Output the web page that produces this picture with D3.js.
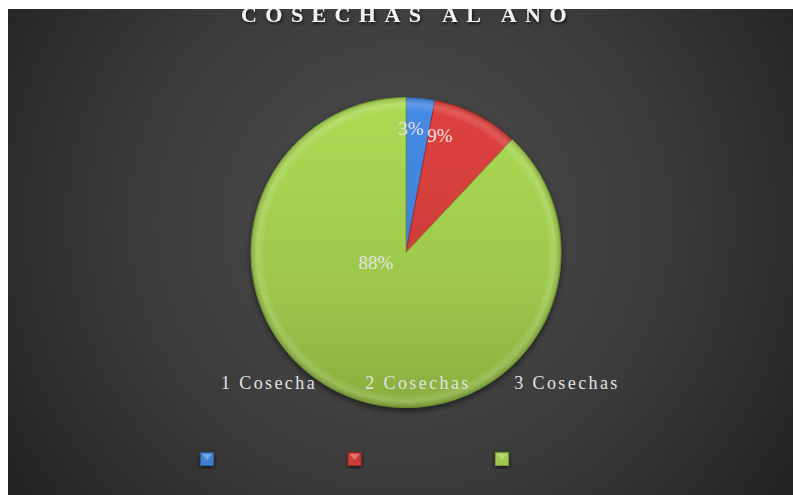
<!DOCTYPE html>
<html lang="es">
<head>
<meta charset="UTF-8">
<title>Cosechas al año</title>
<script src="https://d3js.org/d3.v7.min.js"></script>
<style>
body { margin: 0; background: #fff; }
svg { display: block; }
</style>
</head>
<body>
<div id="container"></div>
<script>
// data
const categories = ["1 Cosecha", "2 Cosechas", "3 Cosechas"];
const values = [3, 9, 88];
const colors = ["#3f7fd2", "#cc3c39", "#9dc84c"];
const darkColors = ["#2a5e9e", "#9a2826", "#7a9c34"];

const serif = "'Liberation Serif', 'Times New Roman', serif";
const width = 793, height = 495;
const cx = 406, cy = 252.5, r = 155;

const svg = d3.select("#container").append("svg")
    .attr("width", width)
    .attr("height", height);

const defs = svg.append("defs");

// background gradient
const bg = defs.append("radialGradient").attr("id", "bg")
    .attr("gradientUnits", "userSpaceOnUse")
    .attr("cx", 400).attr("cy", 220).attr("r", 480);
bg.append("stop").attr("offset", 0).attr("stop-color", "#4e4e4e");
bg.append("stop").attr("offset", 0.55).attr("stop-color", "#3b3b3b");
bg.append("stop").attr("offset", 1).attr("stop-color", "#222");

// slice gradients (pie group is centred, so y runs from -r to r)
colors.forEach((c, i) => {
    const g = defs.append("linearGradient").attr("id", "sg" + i)
        .attr("gradientUnits", "userSpaceOnUse")
        .attr("x1", 0).attr("y1", -r).attr("x2", 0).attr("y2", r);
    g.append("stop").attr("offset", 0).attr("stop-color", d3.color(c).brighter(0.25));
    g.append("stop").attr("offset", 0.6).attr("stop-color", c);
    g.append("stop").attr("offset", 1).attr("stop-color", d3.interpolateRgb(c, darkColors[i])(0.6));
});

// rim bevel
const rim = defs.append("radialGradient").attr("id", "rim")
    .attr("gradientUnits", "userSpaceOnUse")
    .attr("cx", 0).attr("cy", 0).attr("r", r);
rim.append("stop").attr("offset", 0.9).attr("stop-color", "#fff").attr("stop-opacity", 0);
rim.append("stop").attr("offset", 0.96).attr("stop-color", "#fff").attr("stop-opacity", 0.14);
rim.append("stop").attr("offset", 1).attr("stop-color", "#000").attr("stop-opacity", 0.15);

const shadow = defs.append("filter").attr("id", "shadow")
    .attr("x", "-20%").attr("y", "-20%").attr("width", "140%").attr("height", "140%");
shadow.append("feDropShadow").attr("dx", 0).attr("dy", 3).attr("stdDeviation", 3)
    .attr("flood-color", "#000").attr("flood-opacity", 0.55);

const tshadow = defs.append("filter").attr("id", "tshadow");
tshadow.append("feDropShadow").attr("dx", 1).attr("dy", 2).attr("stdDeviation", 1.5)
    .attr("flood-color", "#000").attr("flood-opacity", 0.7);

defs.append("clipPath").attr("id", "area")
    .append("rect").attr("x", 8).attr("y", 9).attr("width", width - 8).attr("height", height - 9);

const chart = svg.append("g").attr("clip-path", "url(#area)");

chart.append("rect")
    .attr("x", 8).attr("y", 9)
    .attr("width", width - 8).attr("height", height - 9)
    .attr("fill", "url(#bg)");

// title (cut at the top as in the original)
chart.append("text")
    .attr("x", 408).attr("y", 22)
    .attr("text-anchor", "middle")
    .attr("font-family", serif)
    .attr("font-weight", "bold")
    .attr("font-size", 22)
    .attr("letter-spacing", 8.4)
    .attr("fill", "#f2f2f2")
    .attr("filter", "url(#tshadow)")
    .text("COSECHAS AL AÑO");

// pie
const pie = d3.pie().sort(null).value(d => d);
const arcs = pie(values);
const arc = d3.arc().innerRadius(0).outerRadius(r);
const rimArc = d3.arc().innerRadius(r - 12).outerRadius(r);

const pg = chart.append("g")
    .attr("transform", `translate(${cx},${cy})`);

pg.append("g").attr("filter", "url(#shadow)")
  .selectAll("path").data(arcs).join("path")
    .attr("d", arc)
    .attr("fill", (d, i) => `url(#sg${i})`)
    .attr("stroke", (d, i) => darkColors[i])
    .attr("stroke-width", 0.8);

pg.selectAll(".rim").data(arcs).join("path")
    .attr("class", "rim")
    .attr("d", rimArc)
    .attr("fill", "url(#rim)");

// data labels
const labelPos = [[5, -118], [34, -111], [-30, 16]];
pg.selectAll(".pct").data(arcs).join("text")
    .attr("class", "pct")
    .attr("x", (d, i) => labelPos[i][0])
    .attr("y", (d, i) => labelPos[i][1])
    .attr("text-anchor", "middle")
    .attr("font-family", serif)
    .attr("font-size", 19)
    .attr("fill", "#e4e4e4")
    .text(d => d.data + "%");

// category labels (above) and legend markers (below)
const xLab = d3.scalePoint().domain(categories).range([269, 567]);
const xKey = d3.scalePoint().domain(categories).range([207, 502]);

chart.selectAll(".cat").data(categories).join("text")
    .attr("class", "cat")
    .attr("x", d => xLab(d))
    .attr("y", 389)
    .attr("text-anchor", "middle")
    .attr("font-family", serif)
    .attr("font-size", 18)
    .attr("letter-spacing", 2.4)
    .attr("fill", "#e2e2e2")
    .text(d => d);

const keys = chart.selectAll(".key").data(categories).join("g")
    .attr("class", "key")
    .attr("transform", d => `translate(${xKey(d)},459)`);
keys.append("rect")
    .attr("x", -6.5).attr("y", -6.5).attr("width", 13).attr("height", 13)
    .attr("fill", (d, i) => colors[i])
    .attr("stroke", (d, i) => darkColors[i])
    .attr("stroke-width", 1)
    .attr("filter", "url(#shadow)");
keys.append("path")
    .attr("d", "M-5,-5 L5,-5 L0,1 Z")
    .attr("fill", "#fff").attr("fill-opacity", 0.3);
</script>
</body>
</html>
